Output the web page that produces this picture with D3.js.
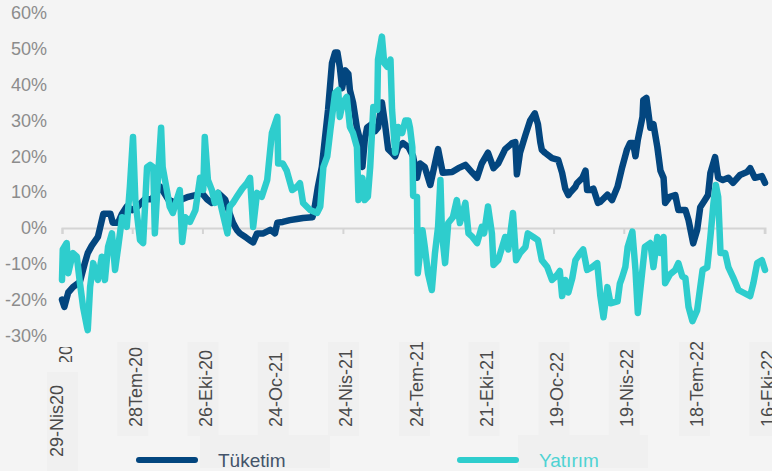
<!DOCTYPE html>
<html>
<head>
<meta charset="utf-8">
<script src="https://cdnjs.cloudflare.com/ajax/libs/d3/7.8.5/d3.min.js"></script>
<style>
  body { margin: 0; background: #f4f4f4; }
  svg { display: block; font-family: "Liberation Sans", Arial, sans-serif; }
</style>
</head>
<body>
<div id="chart"></div>
<script>
// data: [days after 29-Nis-2020, % change]
var startDate = new Date(2020, 3, 29);

var tuketim = [
  [0,-20],[3,-22],[8,-18],[14,-16.5],[23,-15],[29,-10],[33,-7],[38,-5],[46,-2.5],[53,4],
  [62,4],[65,1.5],[72,1.5],[77,4],[83,6],[90,5],[97,6],[106,8],[115,8],[126,11.5],
  [136,8],[145,7],[154,8],[162,8.7],[171,9.2],[179,9.8],[186,8],[192,7],[200,9.8],[209,8],
  [215,4],[219,1.5],[224,-0.5],[228,-1.5],[235,-2.5],[241,-3.5],[245,-4],[250,-1.5],[258,-1.5],[267,-0.5],
  [273,-1.5],[276,1.5],[283,1.7],[292,2.2],[301,2.5],[309,2.8],[321,3],[324,6],[328,11.5],[333,17],
  [337,25],[341,33],[346,46],[350,49],[353,49],[356,45],[359,39],[363,44],[367,43],[369,38.5],
  [373,35],[378,28],[382,24.5],[385,17],[388,24.5],[391,28],[397,29],[401,27],[405,28],[410,35],
  [414,29],[418,22],[423,21],[427,20],[431,22.6],[437,23.7],[444,22.6],[450,20],[455,14],[459,18],
  [465,17],[472,12],[478,18],[482,22],[488,15.4],[500,15.6],[508,16.7],[517,17.6],[526,15.4],[532,14],
  [538,18],[546,21],[553,16.7],[559,18],[568,22],[577,23.7],[581,24],[583,15],[587,21],[594,26],
  [600,30],[606,32],[610,29],[613,24],[615,21.8],[619,21],[628,19.5],[636,19],[641,15.4],[645,11],
  [649,9.2],[651,9.8],[658,11.5],[660,12.5],[667,14],[671,16],[673,10.6],[677,10.6],[681,11],[687,7],
  [690,7.3],[699,9.3],[705,7.8],[712,11.5],[718,17],[724,21.8],[728,23.7],[732,23.7],[735,20],[738,24.6],
  [744,31],[745,35.7],[749,36.3],[751,33],[754,28],[758,29],[763,22.6],[767,16],[771,14],[773,7],
  [779,8.7],[786,9.2],[790,5],[799,5],[803,2.2],[809,-4.3],[814,-0.6],[818,5.8],[824,7.8],[828,9.2],
  [831,15.4],[837,19.8],[841,14],[847,13.4],[854,14],[860,12.6],[869,14.8],[878,15.6],[882,16.7],[888,14],
  [897,14.5],[901,12.6]
];

var yatirim = [
  [0,-14.5],[1,-6],[6,-4.2],[8,-12.6],[14,-7],[19,-8],[23,-15.4],[27,-22],[32,-27.6],[33,-28.5],
  [36,-16.5],[40,-9.8],[46,-14.5],[51,-8],[55,-14.5],[59,-5.3],[64,-1.5],[68,-11.7],[72,-5.3],[77,3],
  [83,0.3],[87,11.5],[91,25.4],[94,7.8],[100,-3.4],[104,-4.2],[109,17],[113,17.6],[117,17],[119,-1.5],
  [123,14],[127,28],[129,17],[135,9.8],[138,6],[142,4.2],[147,7.8],[151,10.6],[154,-3.9],[158,3],
  [164,1.7],[171,5],[177,14],[181,10.6],[183,25.4],[187,13.4],[192,10.6],[196,7],[200,9.8],[205,5],
  [212,-1.5],[215,6],[219,7],[224,8.7],[231,11],[237,12.5],[241,14],[245,0.3],[250,9.8],[256,8.7],
  [263,13.4],[269,26.5],[276,31],[277,18],[283,18],[288,16],[295,10.6],[301,11.5],[305,12.5],[309,7],
  [318,5],[327,4.2],[331,6],[335,17],[340,20],[344,27.4],[350,37.7],[354,38.5],[356,31],[360,35],
  [365,36.6],[369,28.2],[373,26.5],[378,22.6],[380,7.8],[385,14],[388,7.8],[392,8.7],[395,17],[399,33.8],
  [404,33],[405,47],[410,53.4],[413,46],[417,45],[421,47],[423,33],[427,21],[431,28.2],[436,26.5],
  [440,30],[444,30],[446,28],[449,22.6],[450,9],[455,8.7],[456,-12.6],[462,-0.6],[465,-5.3],[469,-12.6],
  [474,-17.3],[478,-7],[482,0.3],[485,13.4],[487,-1.5],[491,-9.8],[495,1.4],[501,3],[506,7.8],[510,1.4],
  [517,7],[521,-1.5],[526,-2.5],[532,-4.2],[538,0.3],[541,-1.5],[546,6],[551,-1.5],[553,-10.3],[559,-9],
  [568,-2.5],[572,-6],[578,4.2],[582,-9],[587,-7],[594,-5.3],[597,-1.5],[604,-2.5],[610,-3.4],[615,-9],
  [622,-10.9],[628,-14.5],[632,-13.7],[635,-13],[638,-12],[641,-19],[645,-14.5],[649,-18],[654,-14],[658,-9],
  [664,-7],[668,-6],[673,-11.7],[679,-11],[686,-9.8],[690,-19],[694,-24.9],[699,-16.5],[703,-21],[712,-20.5],
  [715,-15.5],[718,-13.7],[722,-10.9],[725,-5.3],[731,-1],[735,-11.7],[738,-23.7],[744,-11.5],[747,-5.3],[754,-4.2],
  [758,-10.9],[763,-2.5],[767,-7],[771,-2.5],[773,-15.4],[779,-13],[786,-11.7],[790,-9.8],[795,-13.5],[799,-14],
  [803,-22],[808,-26],[814,-23],[821,-11.7],[827,-11],[831,-2.5],[835,7],[838,12],[841,8.7],[844,-7],
  [850,-7],[854,-10.9],[860,-13.7],[867,-17.3],[873,-18],[882,-19],[886,-15.5],[891,-9.8],[897,-9],[901,-11.7]
];

var tickDays = [0, 90, 180, 270, 360, 451, 540, 630, 720, 810, 900];
var tickLabels = ["29-Nis20", "28Tem-20", "26-Eki-20", "24-Oc-21", "24-Nis-21", "24-Tem-21",
                  "21-Eki-21", "19-Oc-22", "19-Nis-22", "18-Tem-22", "16-Eki-22"];
var yTicks = [60, 50, 40, 30, 20, 10, 0, -10, -20, -30];

var seriesNames = ["Tüketim", "Yatırım"];
var seriesColors = ["#03467f", "#2ecdcd"];
var legendTextColors = ["#44546a", "#4fd3d3"];

var svgWidth = 772;
var svgHeight = 471;

function dayToDate(d) {
    return d3.timeDay.offset(startDate, d);
}

var svg = d3.select("#chart")
    .append("svg")
    .attr("width", svgWidth)
    .attr("height", svgHeight);

svg.append("rect")
    .attr("width", svgWidth)
    .attr("height", svgHeight)
    .attr("fill", "#f4f4f4");

// scales
var xScale = d3.scaleTime()
    .domain([dayToDate(0), dayToDate(901)])
    .range([62, 765]);

var yScale = d3.scaleLinear()
    .domain([-30, 60])
    .range([335.5, 13]);

// faint label boxes under the category labels
svg.selectAll(".labelBox")
    .data(tickDays)
    .enter()
    .append("rect")
    .attr("x", d => xScale(dayToDate(d)) - 15)
    .attr("y", (d, i) => i == 0 ? 372 : 342)
    .attr("width", 31)
    .attr("height", (d, i) => i == 0 ? 99 : 94)
    .attr("fill", "#f0f0f0");

// y axis labels
svg.selectAll(".yLabel")
    .data(yTicks)
    .enter()
    .append("text")
    .attr("x", 47)
    .attr("y", d => yScale(d))
    .attr("dy", "0.35em")
    .attr("text-anchor", "end")
    .attr("font-size", 18)
    .attr("fill", "#8c8c8c")
    .text(d => d + "%");

// x axis on the zero line
var bottomAxis = d3.axisBottom(xScale)
    .tickValues(tickDays.map(dayToDate))
    .tickSize(6)
    .tickFormat("");

var xAxisG = svg.append("g")
    .attr("transform", `translate(0, ${yScale(0)})`)
    .call(bottomAxis);

xAxisG.select(".domain").attr("stroke", "#d4d4d4").attr("stroke-width", 2);
xAxisG.selectAll(".tick line").attr("stroke", "#d4d4d4").attr("stroke-width", 2);

// rotated category labels
svg.selectAll(".xLabel")
    .data(tickDays)
    .enter()
    .append("text")
    .attr("transform", (d, i) => `translate(${xScale(dayToDate(d)) + (i == 0 ? -5 : 3)}, ${i == 0 ? 457 : 427}) rotate(-90)`)
    .attr("dy", "0.35em")
    .attr("font-size", 18)
    .attr("fill", "#4a4a4a")
    .text((d, i) => tickLabels[i]);

// clipped leftover of the first label
svg.append("clipPath")
    .attr("id", "cut")
    .append("rect")
    .attr("x", 55).attr("y", 347).attr("width", 20).attr("height", 15);

svg.append("g")
    .attr("clip-path", "url(#cut)")
    .append("text")
    .attr("transform", `translate(${xScale(dayToDate(0)) + 4}, 371) rotate(-90)`)
    .attr("dy", "0.35em")
    .attr("font-size", 18)
    .attr("fill", "#4a4a4a")
    .text("-20");

// lines
var line = d3.line()
    .x(d => xScale(dayToDate(d[0])))
    .y(d => yScale(d[1]));

[tuketim, yatirim].forEach(function(series, i) {
    svg.append("path")
        .datum(series)
        .attr("d", line)
        .attr("fill", "none")
        .attr("stroke", seriesColors[i])
        .attr("stroke-width", 6.5)
        .attr("stroke-linejoin", "round")
        .attr("stroke-linecap", "round");
});

// legend
var legendX = [139, 460];
var legendBoxX = [200, 518];

seriesNames.forEach(function(name, i) {
    svg.append("rect")
        .attr("x", legendBoxX[i])
        .attr("y", 435)
        .attr("width", 130)
        .attr("height", 33)
        .attr("fill", "#f0f0f0");

    svg.append("line")
        .attr("x1", legendX[i])
        .attr("x2", legendX[i] + 56)
        .attr("y1", 460)
        .attr("y2", 460)
        .attr("stroke", seriesColors[i])
        .attr("stroke-width", 6)
        .attr("stroke-linecap", "round");

    svg.append("text")
        .attr("x", legendX[i] + 79)
        .attr("y", 460)
        .attr("dy", "0.35em")
        .attr("font-size", 19)
        .attr("fill", legendTextColors[i])
        .text(name);
});
</script>
</body>
</html>
